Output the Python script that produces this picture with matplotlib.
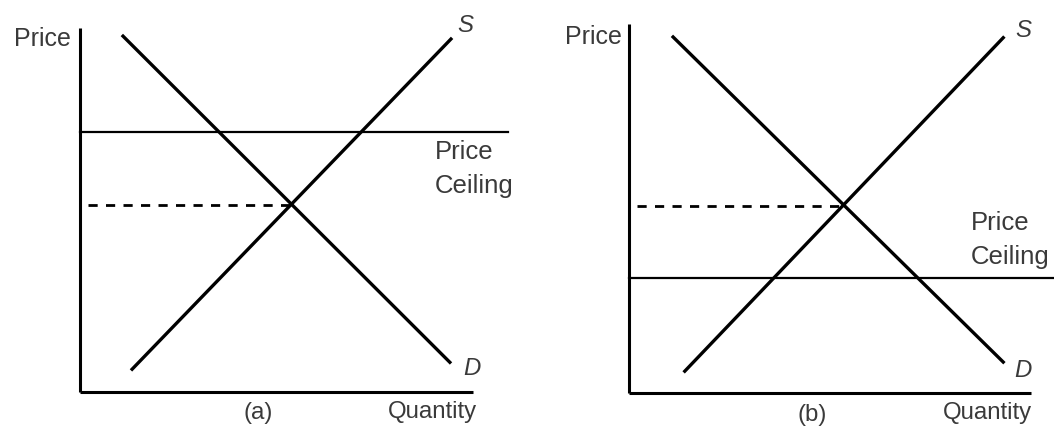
import matplotlib.pyplot as plt

plt.rcParams['font.family'] = ['Liberation Sans', 'DejaVu Sans']

# panel (a): ceiling above equilibrium
a_demand_q = [1.18, 10.16]
a_demand_p = [9.78, 0.82]
a_supply_q = [1.43, 10.19]
a_supply_p = [0.63, 9.70]
a_equilibrium = (5.82, 5.14)
a_ceiling = 7.14
a_ceiling_end = 11.76
a_qmax, a_pmax = 10.8, 10.0

# panel (b): ceiling below equilibrium
b_demand_q = [1.21, 10.25]
b_demand_p = [9.75, 0.85]
b_supply_q = [1.53, 10.25]
b_supply_p = [0.60, 9.73]
b_equilibrium = (5.86, 5.12)
b_ceiling = 3.15
b_ceiling_end = 11.7
b_qmax, b_pmax = 11.0, 10.1

ink = 'black'
txt = '#3a3a3a'
fs = 17.3


def draw_panel(ax, dq, dp, sq, sp, eq, ceiling, ceil_end, qmax, pmax,
               tag, ceil_label_pos, s_pos, d_pos, price_pos, qty_pos, tag_pos):
    # axes drawn as plain lines
    ax.plot([0, 0], [0, pmax], color=ink, lw=2.2, solid_capstyle='butt')
    ax.plot([0, qmax], [0, 0], color=ink, lw=2.2, solid_capstyle='butt')
    ax.plot(dq, dp, color=ink, lw=2.4)
    ax.plot(sq, sp, color=ink, lw=2.4)
    ax.plot([0, ceil_end], [ceiling, ceiling], color=ink, lw=1.6)
    ax.plot([0.22, eq[0]], [eq[1], eq[1]], color=ink, lw=2.0,
            dashes=(3.3, 3.0))

    ax.text(price_pos[0], price_pos[1], 'Price', ha='right', va='center',
            fontsize=18, color=txt)
    ax.text(ceil_label_pos[0], ceil_label_pos[1], 'Price', ha='left',
            va='center', fontsize=18.5, color=txt)
    ax.text(ceil_label_pos[0], ceil_label_pos[1] - 0.92, 'Ceiling', ha='left',
            va='center', fontsize=18.5, color=txt)
    ax.text(s_pos[0], s_pos[1], 'S', ha='center', va='center', fontsize=fs,
            color=txt, style='italic')
    ax.text(d_pos[0], d_pos[1], 'D', ha='center', va='center', fontsize=fs,
            color=txt, style='italic')
    ax.text(qty_pos[0], qty_pos[1], 'Quantity', ha='right', va='center',
            fontsize=fs, color=txt)
    ax.text(tag_pos[0], tag_pos[1], tag, ha='center', va='center',
            fontsize=fs, color=txt)
    ax.axis('off')


fig = plt.figure(figsize=(10.54, 4.31), dpi=100)

ax1 = fig.add_axes([0, 0, 0.5, 1])
ax1.set_xlim(-2.20, 12.28)
ax1.set_ylim(-1.04, 10.80)
draw_panel(ax1, a_demand_q, a_demand_p, a_supply_q, a_supply_p, a_equilibrium,
           a_ceiling, a_ceiling_end, a_qmax, a_pmax, '(a)',
           ceil_label_pos=(9.75, 6.62), s_pos=(10.58, 10.11), d_pos=(10.77, 0.69),
           price_pos=(-0.25, 9.73), qty_pos=(10.9, -0.52), tag_pos=(4.89, -0.55))

ax2 = fig.add_axes([0.5, 0, 0.5, 1])
ax2.set_xlim(-2.79, 11.64)
ax2.set_ylim(-1.01, 10.79)
draw_panel(ax2, b_demand_q, b_demand_p, b_supply_q, b_supply_p, b_equilibrium,
           b_ceiling, b_ceiling_end, b_qmax, b_pmax, '(b)',
           ceil_label_pos=(9.37, 4.68), s_pos=(10.79, 9.95), d_pos=(10.79, 0.66),
           price_pos=(-0.19, 9.78), qty_pos=(11.04, -0.52), tag_pos=(5.01, -0.58))

fig.savefig('out.png', dpi=100, facecolor='white')
